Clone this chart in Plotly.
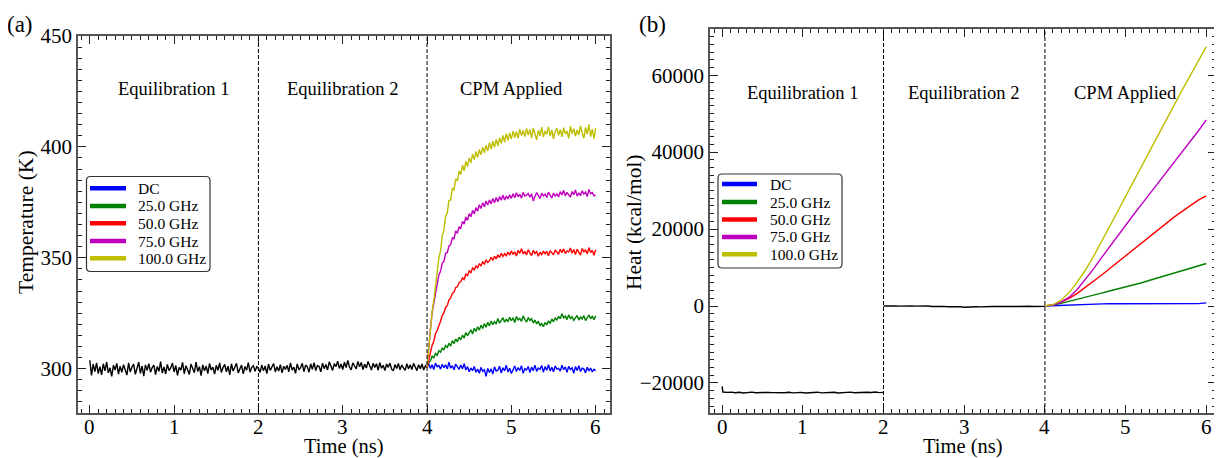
import numpy as np
import plotly.graph_objects as go

# ---------------- data ----------------
series_names = ["DC", "25.0 GHz", "50.0 GHz", "75.0 GHz", "100.0 GHz"]
series_colors = ["#0000ff", "#008000", "#ff0000", "#c000c0", "#bebe00"]
x_ticks = [0, 1, 2, 3, 4, 5, 6]
phase_labels = ["Equilibration 1", "Equilibration 2", "CPM Applied"]
phase_centers = [1, 3, 5]
phase_bounds = [2, 4]

# temperature (K), black trace 0-1.98 ns and 2.00-4.00 ns, step 0.02 ns
blk_T1 = [
    303.8, 297.0, 302.1, 298.7, 302.6, 297.8, 300.9, 297.2, 302.2, 299.0,
    303.0, 298.1, 300.4, 296.5, 301.5, 299.4, 302.4, 297.5, 301.1, 298.3,
    301.8, 298.9, 297.1, 302.6, 298.5, 300.7, 302.0, 297.4, 300.2, 302.9,
    297.9, 301.2, 296.6, 301.7, 299.2, 302.3, 298.4, 300.5, 301.6, 297.3,
    301.0, 298.8, 303.2, 298.0, 300.8, 297.6, 301.9, 299.1, 300.3, 302.5,
    298.5, 301.4, 297.0, 300.6, 299.3, 302.8, 297.7, 301.3, 299.5, 297.4,
    302.1, 300.5, 298.2, 303.0, 298.7, 300.9, 296.9, 301.7, 299.0, 301.2,
    297.8, 302.3, 299.4, 300.7, 297.5, 301.5, 299.2, 302.6, 298.3, 300.4,
    301.9, 298.6, 301.1, 297.2, 302.2, 298.9, 300.8, 302.4, 298.1, 300.3,
    301.6, 297.6, 301.0, 299.3, 302.7, 298.4, 300.6, 301.3, 298.8, 300.9]
blk_T2 = [
    300.2, 298.3, 301.7, 299.0, 301.2, 297.8, 302.0, 299.2, 300.6, 302.3,
    298.5, 300.9, 298.9, 301.8, 298.1, 301.1, 299.6, 301.5, 298.6, 302.6,
    299.3, 300.7, 297.9, 302.1, 299.5, 300.4, 302.4, 298.7, 301.6, 300.8,
    298.4, 302.2, 299.7, 302.7, 299.1, 301.4, 301.0, 298.6, 302.5, 300.0,
    301.9, 299.4, 303.1, 300.6, 299.2, 302.3, 300.9, 303.4, 300.1, 302.1,
    299.6, 302.9, 300.5, 303.7, 300.7, 299.5, 302.6, 301.2, 299.9, 303.3,
    300.8, 302.8, 299.6, 302.0, 300.3, 303.2, 301.0, 299.4, 302.4, 300.5,
    302.2, 299.3, 302.7, 300.2, 301.5, 299.1, 302.1, 300.6, 302.5, 299.8,
    299.0, 301.9, 300.1, 302.3, 299.5, 301.6, 300.4, 299.2, 302.2, 299.9,
    301.7, 299.6, 302.4, 300.3, 299.1, 301.8, 300.0, 302.1, 299.4, 301.3,
    300.5]

# temperature (K) during CPM, 4.00-6.00 ns, step 0.02 ns
T_dc = [
    300.5, 302.3, 300.1, 301.8, 299.6, 302.5, 300.9, 301.4, 299.8, 302.0,
    300.4, 301.7, 299.9, 302.9, 300.2, 301.3, 299.5, 302.1, 300.8, 299.7,
    301.6, 300.0, 302.2, 299.4, 300.9, 298.6, 300.3, 299.1, 301.0, 298.4,
    299.8, 297.9, 300.6, 298.8, 299.5, 296.5, 300.1, 298.3, 299.9, 297.6,
    300.8, 298.9, 299.3, 301.1, 298.0, 300.4, 299.0, 301.5, 298.5, 300.2,
    297.8, 299.6, 301.2, 298.7, 300.5, 299.2, 301.3, 297.9, 300.0, 299.4,
    301.0, 298.2, 300.7, 299.1, 301.6, 298.8, 300.3, 299.7, 301.4, 298.4,
    300.9, 299.3, 301.8, 299.0, 300.6, 298.6, 301.2, 299.8, 300.1, 298.9,
    301.5, 299.5, 300.8, 298.3, 301.1, 299.6, 300.4, 297.9, 300.9, 299.2,
    301.3, 298.7, 300.2, 299.9, 298.1, 300.6, 299.0, 300.3, 298.5, 299.7,
    299.1]
T_25 = [
    300.5, 302.8, 303.5, 305.6, 304.9, 306.8, 306.0, 308.1, 307.4, 309.2,
    308.5, 310.4, 309.6, 311.5, 310.2, 312.6, 311.3, 313.4, 312.1, 314.2,
    313.0, 315.1, 313.8, 316.3, 314.9, 316.0, 317.5, 315.6, 318.2, 316.8,
    318.9, 317.4, 319.6, 318.1, 320.3, 318.7, 320.9, 319.3, 321.5, 319.8,
    321.2, 320.1, 322.6, 320.5, 321.8, 323.0, 320.9, 322.4, 321.1, 323.2,
    321.6, 322.9, 320.8, 323.5, 321.9, 322.7, 321.3, 323.8, 322.2, 321.0,
    323.1, 321.7, 322.5, 320.6, 321.9, 320.2, 321.4, 319.3, 320.5, 318.9,
    320.8, 319.7, 321.6, 320.3, 322.4, 321.1, 323.0, 321.8, 323.6, 322.5,
    324.8, 322.9, 323.7, 322.1, 324.3, 322.6, 323.4, 321.8, 322.9, 324.0,
    321.9, 323.3, 322.4, 323.9, 321.7, 322.8, 324.2, 322.5, 323.6, 322.1,
    323.8]
T_50 = [
    300.5, 304.2, 307.1, 310.5, 312.3, 315.8, 317.2, 319.9, 321.4, 324.0,
    325.1, 327.6, 328.4, 331.0, 331.8, 333.9, 334.5, 336.6, 336.9, 338.8,
    339.3, 340.9, 340.2, 342.6, 342.0, 344.1, 343.3, 345.4, 344.6, 346.3,
    345.5, 347.2, 346.4, 348.3, 347.0, 349.1, 347.9, 348.6, 350.2, 348.8,
    350.7, 349.5, 351.3, 350.1, 352.0, 350.6, 351.8, 350.9, 352.6, 351.2,
    353.1, 351.5, 352.7, 350.8, 353.4, 352.0, 354.1, 351.7, 352.9, 351.3,
    353.6, 352.2, 351.0, 353.3, 351.9, 352.8, 350.7, 352.5, 351.4, 353.0,
    351.8, 352.9, 350.9, 353.2, 352.1, 351.3, 353.5, 352.4, 351.6, 353.8,
    352.3, 354.0, 351.9, 353.1, 352.6, 354.4, 352.0, 353.7, 351.5, 353.9,
    352.8, 351.2, 354.2, 352.7, 353.5, 351.8, 354.6, 352.4, 353.3, 351.1,
    353.6]
T_75 = [
    300.5, 310.4, 317.6, 325.3, 329.5, 335.1, 338.0, 342.2, 343.9, 347.6,
    348.3, 351.9, 352.4, 355.3, 355.8, 358.9, 358.6, 362.1, 361.0, 364.0,
    363.1, 366.4, 365.2, 368.3, 366.9, 369.9, 368.5, 371.4, 369.8, 372.6,
    371.0, 373.9, 372.2, 374.8, 373.0, 375.6, 373.8, 376.1, 374.3, 376.7,
    374.8, 377.2, 375.3, 377.6, 375.9, 378.3, 376.0, 377.9, 376.5, 378.4,
    376.8, 378.9, 377.1, 379.3, 377.5, 378.6, 376.9, 379.5, 377.8, 378.2,
    379.0, 377.3, 378.8, 375.6, 377.6, 379.4, 378.0, 376.7, 379.1, 377.9,
    378.7, 377.2, 379.6, 378.1, 376.9, 379.2, 377.7, 378.9, 377.4, 379.8,
    378.3, 380.4, 377.9, 379.5, 378.6, 377.3, 379.9, 378.4, 380.6, 377.8,
    379.3, 378.0, 380.2, 378.7, 379.6, 377.6, 380.8, 378.9, 379.4, 377.9,
    378.2]
T_100 = [
    300.5, 309.3, 316.4, 325.6, 330.8, 338.2, 342.7, 349.8, 353.1, 360.0,
    362.4, 368.6, 370.3, 375.8, 376.1, 381.2, 380.6, 385.5, 384.7, 389.1,
    387.6, 391.8, 389.2, 393.5, 391.1, 395.0, 392.8, 396.7, 394.3, 397.9,
    395.2, 398.8, 396.4, 399.9, 397.3, 400.8, 398.1, 401.9, 399.0, 402.6,
    399.8, 403.4, 400.5, 404.1, 401.6, 405.2, 402.2, 405.9, 403.0, 406.3,
    403.5, 407.1, 404.2, 406.8, 403.9, 408.0, 405.1, 407.4, 404.6, 408.3,
    405.3, 407.9, 404.0, 408.6, 405.8, 403.2, 407.5, 405.0, 408.9, 404.4,
    407.2, 405.6, 409.0, 404.8, 407.7, 403.6, 406.9, 408.4, 405.2, 407.8,
    404.5, 408.7, 405.9, 407.1, 403.8, 409.3, 406.0, 408.2, 404.9, 407.6,
    405.4, 409.5, 406.3, 403.9, 408.8, 405.7, 410.1, 404.6, 407.9, 403.7,
    408.5]

# heat (kcal/mol), black 0-2 ns (first sample at 0, then 0.01-2.0 ns) and 2-4 ns (step 0.05 ns)
heat_blk1 = [
    -20900, -22350, -22450, -22380, -22520, -22410, -22600, -22470, -22380, -22550,
    -22490, -22620, -22430, -22510, -22580, -22460, -22540, -22400, -22570, -22500,
    -22440, -22610, -22480, -22520, -22390, -22560, -22470, -22530, -22420, -22590,
    -22460, -22500, -22380, -22550, -22450, -22520, -22410, -22480, -22360, -22500,
    -22440]
heat_blk2 = [
    0, 60, -40, 30, -20, 50, -60, 20, -30, 40,
    -80, -10, -120, -60, -150, -90, -200, -140, -250, -180,
    -300, -220, -260, -190, -230, -150, -180, -110, -140, -80,
    -120, -60, -90, -130, -70, -110, -50, -140, -90, -60,
    -100]
# heat (kcal/mol) during CPM, 4.0-6.0 ns, step 0.1 ns
H_dc = [0, 100, 200, 300, 380, 450, 520, 580, 620, 600, 610,
        640, 600, 580, 620, 600, 570, 600, 590, 630, 820]
H_25 = [0, 250, 700, 1200, 1700, 2200, 2800, 3350, 3900, 4400, 4900,
        5450, 6050, 6700, 7350, 7950, 8550, 9150, 9800, 10450, 11050]
H_50 = [0, 300, 1000, 2000, 3300, 4800, 6400, 8000, 9700, 11400, 13100,
        14800, 16500, 18200, 19900, 21500, 23100, 24600, 26100, 27500, 28600]
H_75 = [0, 250, 1000, 2300, 4300, 6800, 9600, 12500, 15400, 18200, 21000,
        23800, 26500, 29200, 31900, 34500, 37200, 39900, 42700, 45500, 48400]
H_100 = [0, 350, 1500, 3500, 6200, 9300, 12800, 16600, 20500, 24500, 28500,
         32500, 36500, 40500, 44500, 48400, 52300, 56100, 59900, 63700, 67400]

T_series = [T_dc, T_25, T_50, T_75, T_100]
H_series = [H_dc, H_25, H_50, H_75, H_100]

# time grids (ns)
t_blk = np.round(np.arange(201) * 0.02, 2)
t_cpm = np.round(4 + np.arange(101) * 0.02, 2)
th_blk1 = np.concatenate([[0.0], np.linspace(0.01, 2.0, 40)])
th_blk2 = np.round(2 + np.arange(41) * 0.05, 2)
th_cpm = np.round(4 + np.arange(21) * 0.1, 2)

# ---------------- figure ----------------
# page body has an 8px margin, so the figure is placed at (8, 8)
OFF = 8
W, H = 1222 - OFF, 458 - OFF
FONT = "Liberation Serif, Times New Roman, Times, serif"


def px(x):
    return (x - OFF) / W


def py(y):
    return 1 - (y - OFF) / H


fig = go.Figure()
lw = 1.4
# panel (a)
fig.add_trace(go.Scatter(x=t_blk, y=blk_T1 + blk_T2, mode="lines",
                         line=dict(color="black", width=lw), showlegend=False,
                         xaxis="x", yaxis="y"))
for name, col, ys in zip(series_names, series_colors, T_series):
    fig.add_trace(go.Scatter(x=t_cpm, y=ys, mode="lines", line=dict(color=col, width=lw),
                             name=name, showlegend=False, xaxis="x", yaxis="y"))
# panel (b)
fig.add_trace(go.Scatter(x=th_blk1, y=heat_blk1, mode="lines",
                         line=dict(color="black", width=lw), showlegend=False,
                         xaxis="x2", yaxis="y2"))
fig.add_trace(go.Scatter(x=th_blk2, y=heat_blk2, mode="lines",
                         line=dict(color="black", width=lw), showlegend=False,
                         xaxis="x2", yaxis="y2"))
for name, col, ys in zip(series_names, series_colors, H_series):
    fig.add_trace(go.Scatter(x=th_cpm, y=ys, mode="lines", line=dict(color=col, width=lw),
                             name=name, showlegend=False, xaxis="x2", yaxis="y2"))

tickfont = dict(family=FONT, size=21, color="black")


def xaxis_cfg(dom, rng, anchor):
    # tick labels are drawn as annotations just below the axis (see below)
    return dict(domain=dom, range=rng, anchor=anchor, tickmode="array", tickvals=x_ticks,
                ticks="inside", ticklen=8, tickwidth=1, tickcolor="#222",
                minor=dict(ticks="inside", ticklen=4, dtick=0.1, tick0=0, tickcolor="#222"),
                showline=True, linecolor="#555", linewidth=1.5, mirror="allticks",
                showgrid=False, zeroline=False, showticklabels=False)


def yaxis_cfg(dom, rng, dtick, mdtick, anchor):
    return dict(domain=dom, range=rng, dtick=dtick, tick0=0, anchor=anchor,
                ticks="inside", ticklen=8, tickwidth=1, tickcolor="#222",
                minor=dict(ticks="inside", ticklen=4, dtick=mdtick, tick0=0, tickcolor="#222"),
                showline=True, linecolor="#555", linewidth=1.5, mirror="allticks",
                showgrid=False, zeroline=False, tickfont=tickfont, tickformat="d")


fig.update_layout(
    template="none",
    width=W, height=H,
    margin=dict(l=0, r=0, t=0, b=0),
    paper_bgcolor="white", plot_bgcolor="white",
    font=dict(family=FONT, color="black"),
    showlegend=False,
    xaxis=xaxis_cfg([px(78), px(610)], [-0.14, 6.17], "y"),
    yaxis=yaxis_cfg([py(413), py(36)], [280, 450], 50, 5, "x"),
    xaxis2=xaxis_cfg([px(710), px(1216)], [-0.15, 6.12], "y2"),
    yaxis2=yaxis_cfg([py(413), py(29)], [-27800, 72000], 20000, 2000, "x2"),
)

shapes = []
for xr, yr in (("x", "y domain"), ("x2", "y2 domain")):
    for xb in phase_bounds:
        shapes.append(dict(type="line", xref=xr, yref=yr, x0=xb, x1=xb, y0=0, y1=1,
                           line=dict(color="black", width=1, dash="4px,2px")))

ann = []
# legends (box, swatches, labels) for both panels
legend_boxes = [(86.5, 176.5, 210, 271.5, 90, 126, 135.5, [188.3, 206, 223.3, 241, 258.3]),
                (718, 174, 842, 268, 722, 757, 768, [184, 202, 219.5, 237, 254.3])]
for (bx0, by0, bx1, by1, sx0, sx1, tx, rows) in legend_boxes:
    r = 4
    path = (f"M{px(bx0 + r)},{py(by0)} L{px(bx1 - r)},{py(by0)} "
            f"Q{px(bx1)},{py(by0)} {px(bx1)},{py(by0 + r)} "
            f"L{px(bx1)},{py(by1 - r)} Q{px(bx1)},{py(by1)} {px(bx1 - r)},{py(by1)} "
            f"L{px(bx0 + r)},{py(by1)} Q{px(bx0)},{py(by1)} {px(bx0)},{py(by1 - r)} "
            f"L{px(bx0)},{py(by0 + r)} Q{px(bx0)},{py(by0)} {px(bx0 + r)},{py(by0)} Z")
    shapes.append(dict(type="path", xref="paper", yref="paper", path=path,
                       fillcolor="white", line=dict(color="#333", width=1.2)))
    for name, col, yr_ in zip(series_names, series_colors, rows):
        shapes.append(dict(type="line", xref="paper", yref="paper",
                           x0=px(sx0), x1=px(sx1), y0=py(yr_), y1=py(yr_),
                           line=dict(color=col, width=4.5)))
        ann.append(dict(text=name, x=px(tx), y=py(yr_), xref="paper", yref="paper",
                        xanchor="left", yanchor="middle", showarrow=False,
                        font=dict(family=FONT, size=15.5, color="black")))
fig.update_layout(shapes=shapes)

for lab, xc in zip(phase_labels, phase_centers):
    ann.append(dict(text=lab, x=xc, y=426, xref="x", yref="y", showarrow=False,
                    xanchor="center", yanchor="middle",
                    font=dict(family=FONT, size=18.5, color="black")))
    ann.append(dict(text=lab, x=xc, y=55400, xref="x2", yref="y2", showarrow=False,
                    xanchor="center", yanchor="middle",
                    font=dict(family=FONT, size=18.5, color="black")))

# x tick labels
for xr in ("x", "x2"):
    for v in x_ticks:
        ann.append(dict(text=str(v), x=v, xref=xr, y=py(427), yref="paper",
                        xanchor="center", yanchor="middle", showarrow=False,
                        font=tickfont))


def paper_text(text, x, y, size, angle=0):
    return dict(text=text, x=px(x), y=py(y), xref="paper", yref="paper",
                xanchor="center", yanchor="middle", textangle=angle, showarrow=False,
                font=dict(family=FONT, size=size, color="black"))


ann.append(paper_text("(a)", 20, 24, 23))
ann.append(paper_text("(b)", 652, 24, 23))
ann.append(paper_text("Temperature (K)", 26, 222, 21.5, -90))
ann.append(paper_text("Heat (kcal/mol)", 634, 222, 21.5, -90))
ann.append(paper_text("Time (ns)", 344, 446, 20.5))
ann.append(paper_text("Time (ns)", 963, 446, 20.5))
fig.update_layout(annotations=ann)

fig.write_html("out.html")
